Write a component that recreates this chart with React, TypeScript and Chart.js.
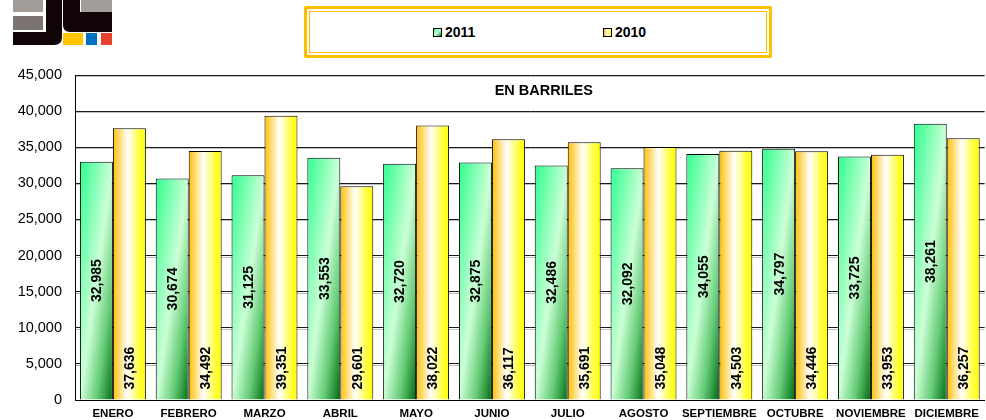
import React, { useEffect, useRef } from "react";
import { Chart, registerables } from "chart.js";

Chart.register(...registerables);

const MONTHS = ["ENERO", "FEBRERO", "MARZO", "ABRIL", "MAYO", "JUNIO", "JULIO", "AGOSTO", "SEPTIEMBRE", "OCTUBRE", "NOVIEMBRE", "DICIEMBRE"];
const SERIES_2011 = [32985, 30674, 31125, 33553, 32720, 32875, 32486, 32092, 34055, 34797, 33725, 38261];
const SERIES_2010 = [37636, 34492, 39351, 29601, 38022, 36117, 35691, 35048, 34503, 34446, 33953, 36257];
const LABEL_2011 = "2011";
const LABEL_2010 = "2010";
const Y_MAX = 45000;
const Y_STEP = 5000;
const TITLE = "EN BARRILES";

const CAT_PCT = 0.87;
const FONT = "Arial, 'Liberation Sans', sans-serif";

function barBox(c: any) {
  const chart = c.chart;
  const xs = chart.scales && chart.scales.x;
  const ys = chart.scales && chart.scales.y;
  if (!xs || !ys || !chart.chartArea) return null;
  const n = MONTHS.length;
  const cw = (xs.right - xs.left) / n;
  const center = xs.getPixelForValue(c.dataIndex);
  const bw = (cw * CAT_PCT) / 2;
  const left = c.datasetIndex === 0 ? center - bw : center;
  const top = ys.getPixelForValue(c.raw);
  const bottom = ys.getPixelForValue(0);
  return { left, top, w: bw, h: Math.max(1, bottom - top) };
}

function greenFill(c: any) {
  if (c.type !== "data") return "#66ff99";
  const b = barBox(c);
  if (!b) return "#66ff99";
  const off = document.createElement("canvas");
  const w = Math.max(1, Math.round(b.w));
  const h = Math.max(1, Math.round(b.h));
  off.width = w;
  off.height = h;
  const o = off.getContext("2d")!;
  o.scale(w, h);
  const g = o.createLinearGradient(0, 0, 1, 1);
  g.addColorStop(0, "#2eff8f");
  g.addColorStop(0.5, "#ccffd6");
  g.addColorStop(0.75, "#66cc77");
  g.addColorStop(1, "#006a10");
  o.fillStyle = g;
  o.fillRect(0, 0, 1, 1);
  const pat = c.chart.ctx.createPattern(off, "no-repeat");
  if (!pat) return "#66ff99";
  pat.setTransform(new DOMMatrix([1, 0, 0, 1, Math.round(b.left), Math.round(b.top)]));
  return pat;
}

function yellowFill(c: any) {
  if (c.type !== "data") return "#ffee55";
  const b = barBox(c);
  if (!b) return "#ffee55";
  const g = c.chart.ctx.createLinearGradient(b.left, 0, b.left + b.w, 0);
  g.addColorStop(0, "#ffbf00");
  g.addColorStop(0.45, "#ffffff");
  g.addColorStop(0.8, "#ffff40");
  g.addColorStop(1, "#ffff00");
  return g;
}

const gridShadowPlugin = {
  id: "gridShadow",
  beforeDatasetsDraw(chart: any) {
    const { ctx, chartArea, scales } = chart;
    const ys = scales.y;
    ctx.save();
    ctx.strokeStyle = "rgba(0,0,0,0.25)";
    ctx.lineWidth = 1;
    ys.ticks.forEach((t: any) => {
      if (t.value === 0) return;
      const y = Math.round(ys.getPixelForValue(t.value)) + 1.5;
      ctx.beginPath();
      ctx.moveTo(chartArea.left, y);
      ctx.lineTo(chartArea.right, y);
      ctx.stroke();
    });
    ctx.restore();
  },
};

const labelPlugin = {
  id: "barLabels",
  afterDatasetsDraw(chart: any) {
    const { ctx, chartArea } = chart;
    ctx.save();
    ctx.fillStyle = "#000";
    ctx.font = `bold 14px ${FONT}`;
    chart.data.datasets.forEach((ds: any, di: number) => {
      const meta = chart.getDatasetMeta(di);
      meta.data.forEach((el: any, i: number) => {
        const p = el.getProps(["x", "y", "base"], true);
        const txt = Number(ds.data[i]).toLocaleString("en-US");
        ctx.save();
        if (di === 0) {
          ctx.translate(p.x, (p.y + p.base) / 2);
          ctx.rotate(-Math.PI / 2);
          ctx.textAlign = "center";
        } else {
          ctx.translate(p.x, p.base - 10);
          ctx.rotate(-Math.PI / 2);
          ctx.textAlign = "left";
        }
        ctx.textBaseline = "middle";
        ctx.fillText(txt, 0, 1);
        ctx.restore();
      });
    });
    // title
    ctx.font = `bold 14.5px ${FONT}`;
    ctx.textAlign = "center";
    ctx.textBaseline = "middle";
    ctx.fillText(TITLE, (chartArea.left + chartArea.right) / 2 + 14, chartArea.top + 16);
    ctx.restore();
  },
};

function Logo() {
  const black = "#120508";
  return (
    <svg width={120} height={50} style={{ position: "absolute", left: 0, top: 0 }}>
      <rect x={13} y={0} width={30} height={12} fill="#a39d9a" />
      <rect x={13} y={16} width={30} height={14} fill="#7b7471" />
      <path d="M46 0 H62 V37 Q62 45 54 45 H13 V32 H46 Z" fill={black} />
      <path d="M63 0 H80 V12 H112 V32 H70 Q63 32 63 25 Z" fill={black} />
      <rect x={81} y={0} width={31} height={12} fill="#a39d9a" />
      <rect x={63} y={33} width={20} height={12} fill="#ffc600" />
      <rect x={86} y={33} width={11} height={12} fill="#0070c0" />
      <rect x={101} y={33} width={11} height={12} fill="#e8412c" />
    </svg>
  );
}

function Legend() {
  const item = (left: number, label: string, bg: string) => (
    <div style={{ position: "absolute", left, top: 15, display: "flex", alignItems: "center" }}>
      <div style={{ width: 7, height: 7, border: "1px solid #000", background: bg, marginRight: 3 }} />
      <span style={{ font: `bold 14px ${FONT}`, color: "#000" }}>{label}</span>
    </div>
  );
  return (
    <div
      style={{
        position: "absolute",
        left: 304,
        top: 6,
        width: 462,
        height: 46,
        border: "3px solid #ffc000",
        borderRadius: 2,
        background: "#fff",
      }}
    >
      <div style={{ position: "absolute", left: 2, top: 2, right: 2, bottom: 2, border: "1px solid #ffc000" }} />
      {item(126, LABEL_2011, "linear-gradient(135deg,#2eff8f,#ccffd6,#009020)")}
      {item(296, LABEL_2010, "linear-gradient(90deg,#ffbf00,#fff,#ffff00)")}
    </div>
  );
}

export default function App() {
  const ref = useRef<HTMLCanvasElement>(null);
  useEffect(() => {
    if (!ref.current) return;
    const chart = new Chart(ref.current, {
      type: "bar",
      data: {
        labels: MONTHS,
        datasets: [
          {
            label: LABEL_2011,
            data: SERIES_2011,
            backgroundColor: greenFill as any,
            borderColor: "#000",
            borderWidth: 1,
            barPercentage: 1,
            categoryPercentage: CAT_PCT,
          },
          {
            label: LABEL_2010,
            data: SERIES_2010,
            backgroundColor: yellowFill as any,
            borderColor: "#000",
            borderWidth: 1,
            barPercentage: 1,
            categoryPercentage: CAT_PCT,
          },
        ],
      },
      options: {
        responsive: false,
        animation: false,
        events: [],
        layout: { padding: { top: 75, left: 0, right: 0, bottom: 0 } },
        plugins: { legend: { display: false }, title: { display: false }, tooltip: { enabled: false } },
        scales: {
          x: {
            grid: { display: false, drawTicks: false },
            border: { display: true, color: "#000", width: 1 },
            ticks: { color: "#000", font: { family: FONT, size: 11.5, weight: "bold" }, padding: 7, maxRotation: 0, autoSkip: false },
            afterFit: (s: any) => {
              s.height = 20;
            },
          },
          y: {
            min: 0,
            max: Y_MAX,
            ticks: {
              stepSize: Y_STEP,
              color: "#000",
              font: { family: FONT, size: 14.5 },
              padding: 0,
              callback: (v: any) => Number(v).toLocaleString("en-US"),
            },
            grid: { color: "#1a1a1a", lineWidth: 1, drawTicks: true, tickLength: 13, tickColor: "rgba(0,0,0,0)" },
            border: { display: true, color: "#000", width: 1 },
            afterFit: (s: any) => {
              s.width = 75;
              s.paddingTop = 0;
              s.paddingBottom = 0;
            },
          },
        },
      },
      plugins: [gridShadowPlugin, labelPlugin],
    });
    return () => chart.destroy();
  }, []);
  return (
    <div style={{ position: "absolute", left: 0, top: 0, width: 986, height: 420, background: "#fff" }}>
      <canvas ref={ref} width={986} height={420} style={{ position: "absolute", left: 0, top: 0 }} />
      <Logo />
      <Legend />
    </div>
  );
}
